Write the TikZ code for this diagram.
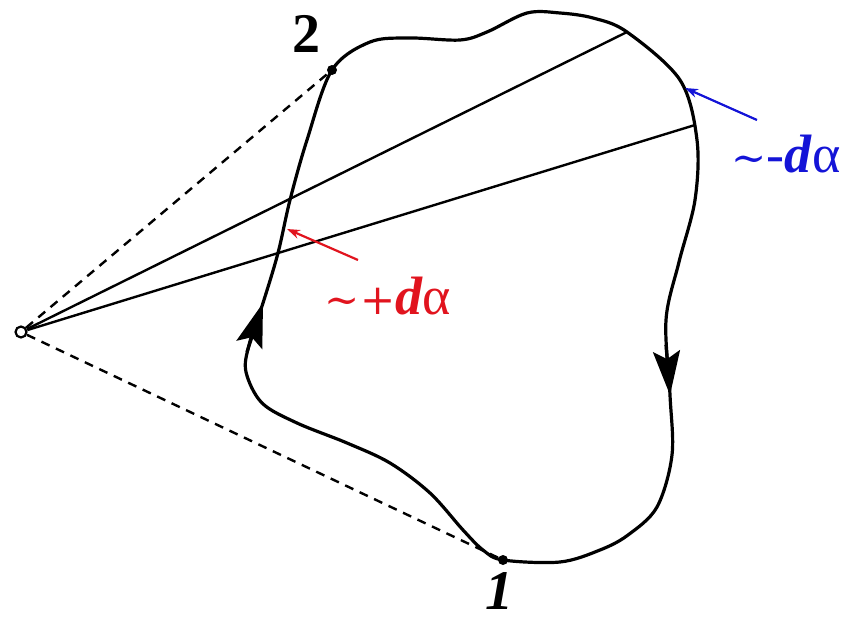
\documentclass[tikz,border=0pt]{standalone}
\usepackage{fontspec}
\newfontfamily\tmsfont{Liberation Serif}
\newfontfamily\dvsfont{DejaVu Serif}
\usetikzlibrary{arrows.meta}
\definecolor{plusred}{RGB}{225,20,30}
\definecolor{minusblue}{RGB}{20,20,215}
\newcommand{\simsign}{{\dvsfont\fontsize{42}{42}\selectfont ∼}}
\newcommand{\plussign}{{\dvsfont\fontsize{42}{42}\selectfont +}}
\newcommand{\bdi}{\textbf{\textit{d}}}
\tikzset{
  contour/.style={line width=3.2pt,line cap=round,line join=round},
  ray/.style={line width=2.4pt},
  guide/.style={line width=2.4pt,dash pattern=on 9pt off 7pt},
  dirtip/.style={-{Stealth[length=44pt,width=27pt,inset=8pt]},line width=3.2pt},
  pt/.style={circle,fill,inner sep=0pt,minimum size=10pt},
  ptlabel/.style={inner sep=0pt,font=\tmsfont\fontsize{56}{56}\selectfont\bfseries},
  hint/.style={-{Stealth[length=13pt,width=9pt]},line width=2.2pt},
  hintlabel/.style={inner sep=0pt,font=\tmsfont\fontsize{54}{54}\selectfont}
}
\begin{document}
\begin{tikzpicture}[x=1pt,y=-1pt]
  \useasboundingbox (0,0) rectangle (849,621);
  % viewpoint and the two end points
  \node[circle,draw,line width=2.2pt,fill=white,inner sep=0pt,minimum size=11pt] (O) at (21,332) {};
  \node[pt] (p1) at (503,560) {};
  \node[pt] (p2) at (332,70) {};
  \coordinate (r1) at (627,32);
  \coordinate (r2) at (695,125);
  % dashed lines to the end points
  \draw[guide] (O) -- (p2);
  \draw[guide] (O) -- (p1);
  % two rays through the contour
  \draw[ray] (O) -- (r1);
  \draw[ray] (O) -- (r2);
  % closed contour
  \draw[contour] plot[smooth cycle,tension=0.55] coordinates {
    (503,560) (483,550) (463,530) (430,493) (390,463) (347,443)
    (297,423) (262,403) (246,372) (249,345) (263,303) (278,253)
    (290,200) (307,140) (332,70) (370,42) (410,38) (460,40)
    (487,32) (527,13) (560,13) (593,18) (627,32) (680,80)
    (697,140) (695,200) (679,262) (666,320) (670,395) (672,455)
    (657,507) (628,535) (600,550) (560,562)};
  % direction arrows
  \draw[dirtip] (247,352) -- (263,303);
  \draw[dirtip] (666,345) -- (670,395);
  \node[ptlabel] (lab2) at (306,34) {2};
  \node[ptlabel,font=\tmsfont\fontsize{56}{56}\selectfont\bfseries\itshape] (lab1) at (499,591) {1};
  % pointers
  \node[hintlabel,text=plusred] (plus) at (388,296) {\simsign\plussign\bdi α};
  \node[hintlabel,text=minusblue] (minus) at (786,154) {\simsign-\bdi α};
  \coordinate (plustip) at (287,229);
  \coordinate (minustip) at (685,88);
  \draw[hint,plusred] (358,260) -- (plustip);
  \draw[hint,minusblue] (757,120) -- (minustip);
\end{tikzpicture}
\end{document}
